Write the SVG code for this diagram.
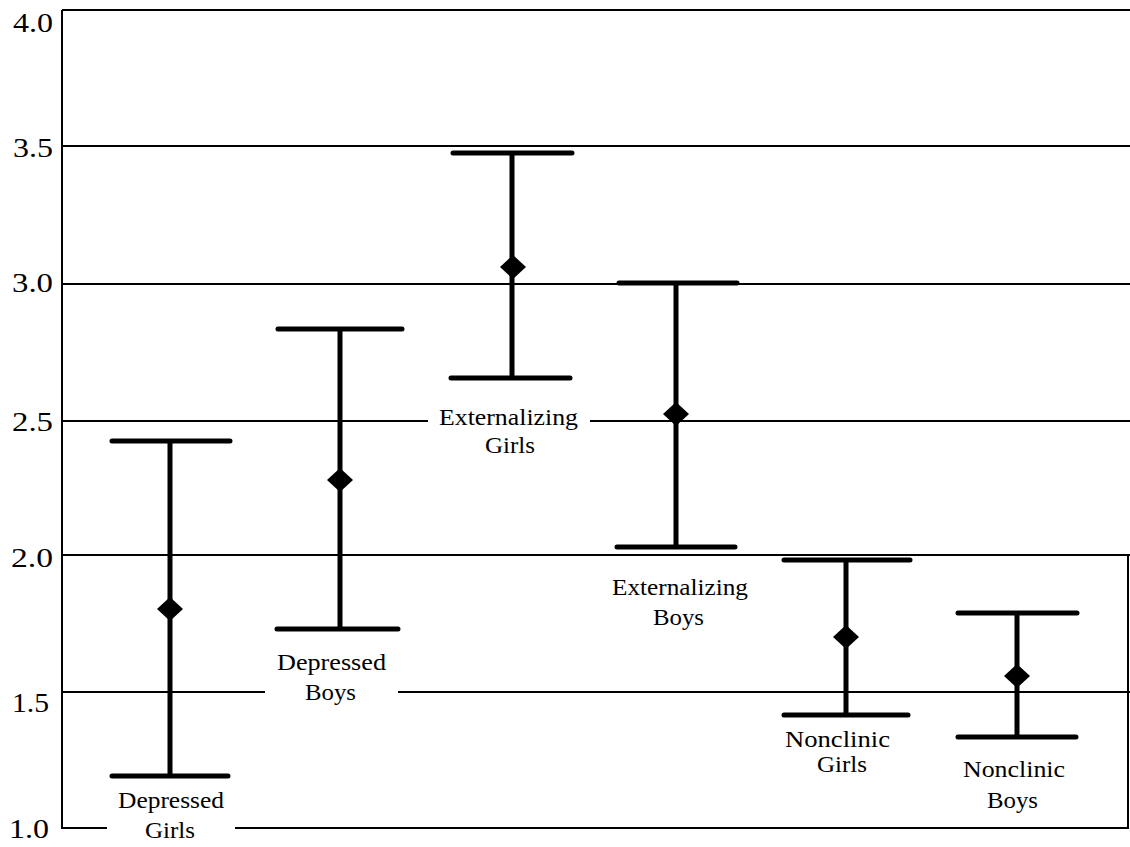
<svg xmlns="http://www.w3.org/2000/svg" width="1130" height="847" viewBox="0 0 1130 847">
<style>
.grid{stroke:#000;stroke-width:2;fill:none}
.bar{stroke:#000;stroke-width:5;stroke-linecap:round;fill:none}
.stem{stroke:#000;stroke-width:5;fill:none}
.dia{fill:#000}
.ax{font-family:"Liberation Serif","Times New Roman",serif;font-size:27px;fill:#000}
.lb{font-family:"Liberation Serif","Times New Roman",serif;font-size:23px;fill:#000}
</style>
<rect width="1130" height="847" fill="#fff"/>
<g id="axes">
<path class="grid" d="M62,10 H1130 M62,10 V829 M1128,555 V829"/>
<path class="grid" d="M62,146 H1130 M62,284 H1130 M62,421 H428 M590,421 H1130 M62,555 H1130 M62,692 H265 M398,692 H1130 M62,828 H107 M235,828 H1128"/>
</g>
<g id="ylabels">
<text class="ax" x="13" y="32" textLength="40" lengthAdjust="spacingAndGlyphs">4.0</text>
<text class="ax" x="13" y="157" textLength="40" lengthAdjust="spacingAndGlyphs">3.5</text>
<text class="ax" x="12" y="292" textLength="41" lengthAdjust="spacingAndGlyphs">3.0</text>
<text class="ax" x="12" y="431" textLength="41" lengthAdjust="spacingAndGlyphs">2.5</text>
<text class="ax" x="11" y="567" textLength="42" lengthAdjust="spacingAndGlyphs">2.0</text>
<text class="ax" x="12" y="712" textLength="37" lengthAdjust="spacingAndGlyphs">1.5</text>
<text class="ax" x="9" y="838" textLength="40" lengthAdjust="spacingAndGlyphs">1.0</text>
</g>
<g id="depressed-girls">
<path class="stem" d="M170,441 V776"/>
<path class="bar" d="M112,441 H230 M112,776 H228"/>
<path class="dia" d="M170,597 L183,609 L170,621 L157,609 Z"/>
<text class="lb" x="118" y="808" textLength="106" lengthAdjust="spacingAndGlyphs">Depressed</text>
<text class="lb" x="145" y="838" textLength="50" lengthAdjust="spacingAndGlyphs">Girls</text>
</g>
<g id="depressed-boys">
<path class="stem" d="M340,329 V629"/>
<path class="bar" d="M278,329 H402 M277,629 H398"/>
<path class="dia" d="M340,468 L353,480 L340,492 L327,480 Z"/>
<text class="lb" x="277" y="670" textLength="109" lengthAdjust="spacingAndGlyphs">Depressed</text>
<text class="lb" x="305" y="700" textLength="51" lengthAdjust="spacingAndGlyphs">Boys</text>
</g>
<g id="externalizing-girls">
<path class="stem" d="M512,153 V378"/>
<path class="bar" d="M453,153 H572 M451,378 H570"/>
<path class="dia" d="M513,255 L526,267 L513,279 L500,267 Z"/>
<text class="lb" x="439" y="425" textLength="139" lengthAdjust="spacingAndGlyphs">Externalizing</text>
<text class="lb" x="485" y="453" textLength="50" lengthAdjust="spacingAndGlyphs">Girls</text>
</g>
<g id="externalizing-boys">
<path class="stem" d="M676,283 V547"/>
<path class="bar" d="M619,283 H737 M617,547 H735"/>
<path class="dia" d="M676,402 L689,414 L676,426 L663,414 Z"/>
<text class="lb" x="612" y="595" textLength="136" lengthAdjust="spacingAndGlyphs">Externalizing</text>
<text class="lb" x="653" y="625" textLength="51" lengthAdjust="spacingAndGlyphs">Boys</text>
</g>
<g id="nonclinic-girls">
<path class="stem" d="M846,560 V715"/>
<path class="bar" d="M784,560 H910 M784,715 H908"/>
<path class="dia" d="M846,625 L859,637 L846,649 L833,637 Z"/>
<text class="lb" x="785" y="747" textLength="105" lengthAdjust="spacingAndGlyphs">Nonclinic</text>
<text class="lb" x="817" y="772" textLength="50" lengthAdjust="spacingAndGlyphs">Girls</text>
</g>
<g id="nonclinic-boys">
<path class="stem" d="M1017,613 V737"/>
<path class="bar" d="M958,613 H1077 M958,737 H1076"/>
<path class="dia" d="M1017,664 L1030,676 L1017,688 L1004,676 Z"/>
<text class="lb" x="963" y="777" textLength="102" lengthAdjust="spacingAndGlyphs">Nonclinic</text>
<text class="lb" x="987" y="808" textLength="51" lengthAdjust="spacingAndGlyphs">Boys</text>
</g>
</svg>
